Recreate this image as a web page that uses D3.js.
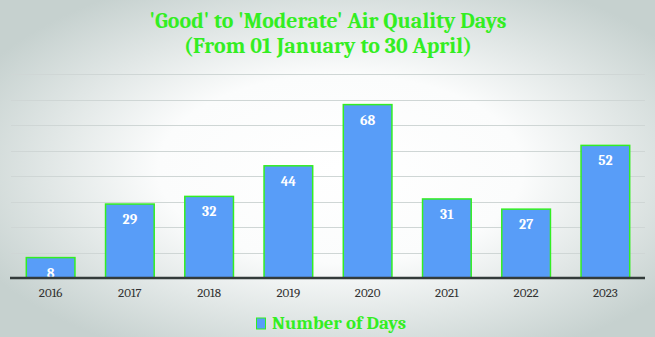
<!DOCTYPE html>
<html>
<head>
<meta charset="utf-8">
<script src="https://cdn.jsdelivr.net/npm/d3@7"></script>
<style>
  body { margin: 0; }
  svg { display: block; }
</style>
</head>
<body>
<div id="chart"></div>
<script>
// data
const years = ['2016', '2017', '2018', '2019', '2020', '2021', '2022', '2023'];
const days = [8, 29, 32, 44, 68, 31, 27, 52];
const yTicks = [0, 10, 20, 30, 40, 50, 60, 70, 80];
const titleLines = ["'Good' to 'Moderate' Air Quality Days", '(From 01 January to 30 April)'];
const titleWidths = [357, 288];
const seriesName = 'Number of Days';

const width = 655, height = 337;
const margin = { top: 74, right: 10, bottom: 59, left: 11 };
const serif = 'Cambria, "Liberation Serif", "DejaVu Serif", serif';
const green = '#33ee22';
const barFill = '#589df8';

const svg = d3.select('#chart').append('svg')
  .attr('width', width)
  .attr('height', height);

// background: soft radial gradient, white middle, grey-green edges
const grad = svg.append('defs').append('radialGradient')
  .attr('id', 'bg')
  .attr('cx', '52%').attr('cy', '50%').attr('r', '62%');
grad.append('stop').attr('offset', '0%').attr('stop-color', '#ffffff');
grad.append('stop').attr('offset', '45%').attr('stop-color', '#fbfcfc');
grad.append('stop').attr('offset', '100%').attr('stop-color', '#c6d1cf');
svg.append('rect').attr('width', width).attr('height', height).attr('fill', 'url(#bg)');

const x = d3.scaleBand()
  .domain(years)
  .range([margin.left, width - margin.right])
  .paddingInner(0.386)
  .paddingOuter(0.193);

const y = d3.scaleLinear()
  .domain([0, 80])
  .range([height - margin.bottom, margin.top]);

// gridlines
svg.append('g')
  .selectAll('line')
  .data(yTicks.slice(1))
  .enter().append('line')
  .attr('x1', margin.left)
  .attr('x2', width - margin.right)
  .attr('y1', d => Math.round(y(d)) + 0.5)
  .attr('y2', d => Math.round(y(d)) + 0.5)
  .attr('stroke', '#cfd6d5')
  .attr('stroke-width', 1);

// bars
svg.append('g')
  .selectAll('rect')
  .data(years)
  .enter().append('rect')
  .attr('x', d => x(d))
  .attr('y', (d, i) => y(days[i]))
  .attr('width', x.bandwidth())
  .attr('height', (d, i) => y(0) - y(days[i]))
  .attr('fill', barFill)
  .attr('stroke', green)
  .attr('stroke-width', 1.5);

// value labels
svg.append('g')
  .selectAll('text')
  .data(years)
  .enter().append('text')
  .attr('x', d => x(d) + x.bandwidth() / 2)
  .attr('y', (d, i) => y(days[i]) + 20)
  .attr('text-anchor', 'middle')
  .attr('font-family', serif)
  .attr('font-weight', 'bold')
  .attr('font-size', 14)
  .attr('fill', '#ffffff')
  .text((d, i) => days[i]);

// x axis baseline + labels
const xAxis = svg.append('g')
  .attr('transform', 'translate(0,' + y(0) + ')')
  .call(d3.axisBottom(x).tickSize(0).tickPadding(10));
xAxis.select('.domain')
  .attr('d', 'M' + (margin.left - 1) + ',0H' + (width - margin.right))
  .attr('stroke', '#333b3a')
  .attr('stroke-width', 2.5);
xAxis.selectAll('text')
  .attr('font-family', serif)
  .attr('font-size', 13)
  .attr('fill', '#333333');

// title
svg.append('g')
  .selectAll('text')
  .data(titleLines)
  .enter().append('text')
  .attr('x', 328)
  .attr('y', (d, i) => 28 + i * 25)
  .attr('text-anchor', 'middle')
  .attr('font-family', serif)
  .attr('font-weight', 'bold')
  .attr('font-size', 23)
  .attr('fill', green)
  .attr('textLength', (d, i) => titleWidths[i])
  .attr('lengthAdjust', 'spacingAndGlyphs')
  .text(d => d);

// legend
const legend = svg.append('g');
legend.append('rect')
  .attr('x', 256.5).attr('y', 318)
  .attr('width', 9).attr('height', 11)
  .attr('fill', barFill)
  .attr('stroke', green)
  .attr('stroke-width', 1);
legend.append('text')
  .attr('x', 272).attr('y', 329)
  .attr('font-family', serif)
  .attr('font-weight', 'bold')
  .attr('font-size', 18)
  .attr('fill', green)
  .attr('textLength', 134)
  .attr('lengthAdjust', 'spacingAndGlyphs')
  .text(seriesName);
</script>
</body>
</html>
